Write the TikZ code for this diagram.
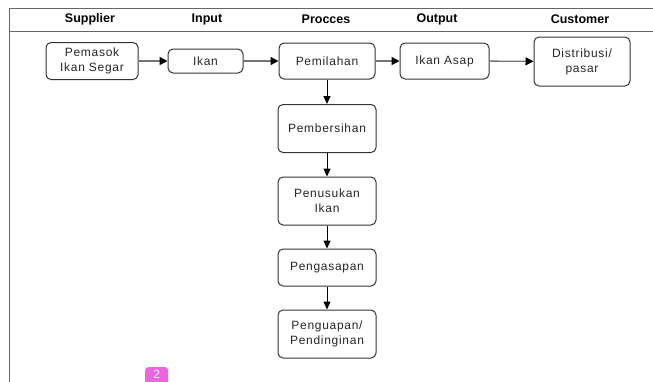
\documentclass[tikz,border=0pt]{standalone}
\usepackage{fontspec}
\setmainfont{Liberation Sans}
\newfontfamily\boxfont[LetterSpace=6]{Liberation Sans}
\usetikzlibrary{arrows.meta}
\begin{document}
\begin{tikzpicture}[x=1pt,y=-1pt,
  proc/.style={draw=black!80, line width=1pt, rounded corners=5pt, fill=white,
    align=center, font=\boxfont\fontsize{12}{15}\selectfont, text=black!85, inner sep=0pt},
  hdr/.style={font=\bfseries\fontsize{12.5}{14}\selectfont},
  harrow/.style={draw=black!55, line width=1.4pt, -{Triangle[length=8pt,width=8pt,color=black]}},
  varrow/.style={draw=black, line width=1pt, -{Triangle[length=8pt,width=7pt]}},
  frame/.style={draw=black!60, line width=0.8pt}]
\useasboundingbox (0,0) rectangle (653,381);
\begin{scope}
\clip (0,0) rectangle (653,381);
% frame
\draw[frame] (660,8) -- (9,8) -- (9,390);
\draw[frame] (9,31) -- (660,31);
% headers
\node[hdr] (hs) at (90,19) {Supplier};
\node[hdr] (hi) at (207,19) {Input};
\node[hdr] (hp) at (326,19) {Procces};
\node[hdr] (ho) at (437,19) {Output};
\node[hdr] (hc) at (580,19) {Customer};
% boxes
\node[proc, minimum width=92pt, minimum height=37pt] (sup) at (92,61) {Pemasok\\Ikan Segar};
\node[proc, minimum width=75pt, minimum height=24pt] (inp) at (205.5,61) {Ikan};
\node[proc, minimum width=96pt, minimum height=36pt] (pem) at (327,61) {Pemilahan};
\node[proc, minimum width=89pt, minimum height=36pt] (out) at (444.5,61) {Ikan Asap};
\node[proc, minimum width=96pt, minimum height=49pt] (cus) at (582,61.5) {Distribusi/\\pasar};
\node[proc, minimum width=98pt, minimum height=48pt] (ber) at (327,128.5) {Pembersihan};
\node[proc, minimum width=98pt, minimum height=48pt] (tus) at (327,201) {Penusukan\\Ikan};
\node[proc, minimum width=98pt, minimum height=37pt] (asp) at (327,267.5) {Pengasapan};
\node[proc, minimum width=98pt, minimum height=48pt] (uap) at (327,334) {Penguapan/\\Pendinginan};
% arrows
\draw[harrow] (sup) -- (inp);
\draw[harrow] (inp) -- (pem);
\draw[harrow] (pem) -- (out);
\draw[harrow] (out) -- (cus);
\draw[varrow] (pem) -- (ber);
\draw[varrow] (ber) -- (tus);
\draw[varrow] (tus) -- (asp);
\draw[varrow] (asp) -- (uap);
% badge
\node[fill={rgb,255:red,236;green,100;blue,222}, rounded corners=3pt, minimum width=23pt, minimum height=22pt,
  text=white, font=\fontsize{12}{12}\selectfont, anchor=north west, inner sep=0pt, text depth=0pt] (badge) at (145,367) {\raisebox{8pt}{2}};
\end{scope}
\end{tikzpicture}
\end{document}
